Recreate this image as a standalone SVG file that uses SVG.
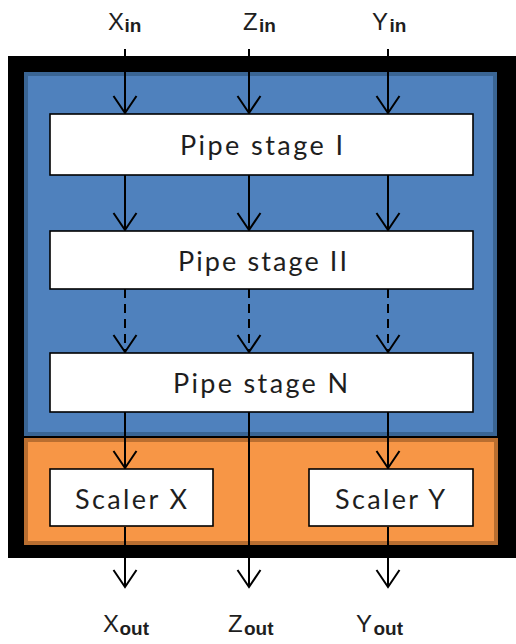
<svg xmlns="http://www.w3.org/2000/svg" width="516" height="644" viewBox="0 0 516 644">
  <defs>
    <style>
      .frame { fill: #000000; }
      .pipe-area { fill: #4F81BD; stroke: #3A6594; stroke-width: 4; }
      .scale-area { fill: #F79646; stroke: #B96E30; stroke-width: 4; }
      .box { fill: #FFFFFF; stroke: #000000; stroke-width: 1.6; }
      .box-label { font-family: Lato, "Open Sans", sans-serif; font-size: 27px; fill: #1E1E1E; text-anchor: middle; }
      .io { font-family: "Liberation Sans", Arial, sans-serif; font-size: 24px; fill: #1E1E1E; }
      .io .sub { font-size: 19px; font-weight: bold; }
      .wire { fill: none; stroke: #000000; stroke-width: 2; marker-end: url(#arrow); }
      .dashed { stroke-dasharray: 9 6; }
    </style>
    <marker id="arrow" markerUnits="userSpaceOnUse" markerWidth="40" markerHeight="40" refX="0" refY="0" viewBox="-20 -20 40 40" orient="auto" overflow="visible">
      <path d="M-17,-11.5 L0,0 L-17,11.5" fill="none" stroke="#000000" stroke-width="2"/>
    </marker>
  </defs>

  <!-- outer frame and coloured areas -->
  <g id="enclosure">
    <rect class="frame" x="8" y="56" width="508" height="502"/>
    <rect class="pipe-area" x="26" y="74" width="469" height="360"/>
    <rect class="scale-area" x="26" y="440" width="470" height="103"/>
  </g>

  <!-- data paths -->
  <g id="connectors">
    <path class="wire" d="M125,49 V113"/>
    <path class="wire" d="M249,49 V113"/>
    <path class="wire" d="M388,49 V113"/>

    <path class="wire" d="M125,175 V230"/>
    <path class="wire" d="M249,175 V230"/>
    <path class="wire" d="M388,175 V230"/>

    <path class="wire dashed" d="M125,289 V352"/>
    <path class="wire dashed" d="M249,289 V352"/>
    <path class="wire dashed" d="M388,289 V352"/>

    <path class="wire" d="M125,412 V468"/>
    <path class="wire" d="M388,412 V468"/>
    <path class="wire" d="M249,412 V587"/>

    <path class="wire" d="M125,527 V587"/>
    <path class="wire" d="M388,527 V587"/>
  </g>

  <g id="stage1">
    <rect class="box" x="50" y="114" width="423" height="61"/>
    <text class="box-label" x="261.5" y="155" textLength="163" lengthAdjust="spacing">Pipe stage I</text>
  </g>
  <g id="stage2">
    <rect class="box" x="50" y="231" width="423" height="58"/>
    <text class="box-label" x="262.5" y="271" textLength="169" lengthAdjust="spacing">Pipe stage II</text>
  </g>
  <g id="stageN">
    <rect class="box" x="50" y="353" width="423" height="59"/>
    <text class="box-label" x="260.5" y="393" textLength="175" lengthAdjust="spacing">Pipe stage N</text>
  </g>
  <g id="scalerX">
    <rect class="box" x="50" y="469" width="163" height="57"/>
    <text class="box-label" x="131" y="509" textLength="112" lengthAdjust="spacing">Scaler X</text>
  </g>
  <g id="scalerY">
    <rect class="box" x="309" y="469" width="164" height="57"/>
    <text class="box-label" x="390" y="509" textLength="110" lengthAdjust="spacing">Scaler Y</text>
  </g>

  <!-- inputs -->
  <g id="in-x"><text class="io" x="108" y="30">X<tspan class="sub" x="124.5" y="32">in</tspan></text></g>
  <g id="in-z"><text class="io" x="243" y="30">Z<tspan class="sub" x="259" y="32">in</tspan></text></g>
  <g id="in-y"><text class="io" x="372" y="30">Y<tspan class="sub" x="389.5" y="32">in</tspan></text></g>

  <!-- outputs -->
  <g id="out-x"><text class="io" x="103" y="632">X<tspan class="sub" x="119.5" y="635">out</tspan></text></g>
  <g id="out-z"><text class="io" x="228" y="632">Z<tspan class="sub" x="244" y="635">out</tspan></text></g>
  <g id="out-y"><text class="io" x="356" y="632">Y<tspan class="sub" x="373.5" y="635">out</tspan></text></g>
</svg>
